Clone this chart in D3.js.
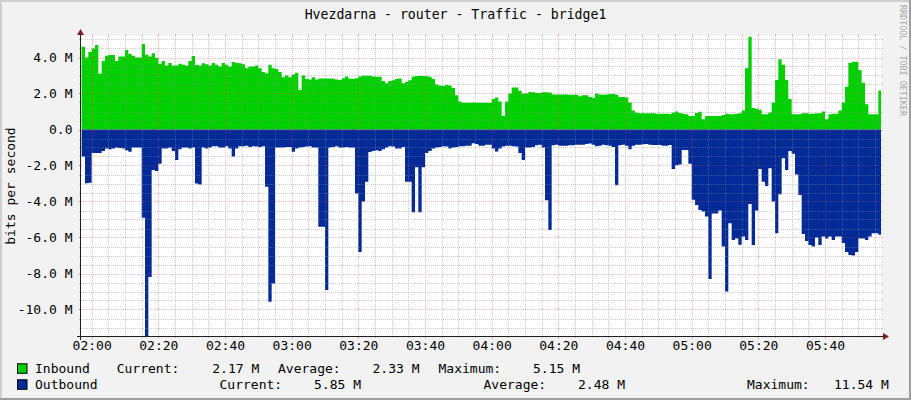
<!DOCTYPE html>
<html><head><meta charset="utf-8">
<script src="https://cdn.jsdelivr.net/npm/d3@7"></script>
<style>
html,body{margin:0;padding:0;background:#f2f2f2;}
svg{display:block;}
text{font-family:"DejaVu Sans Mono",monospace;fill:#000;}
</style></head><body>
<svg id="chart" width="911" height="400"></svg>
<script>
// ---------- data ----------
const title = "Hvezdarna - router - Traffic - bridge1";
const yAxisTitle = "bits per second";
const watermark = "RRDTOOL / TOBI OETIKER";
const firstSample = "01:57";   // one sample per minute
const stepMinutes = 1;

// Inbound, Mbit/s (one value per minute)
const inbound = [
 4.6,4.0,4.3,4.5,4.7,3.1,3.8,4.1,4.14,4.14,
 3.8,4.05,4.05,4.42,4.2,4.1,4.0,4.0,4.75,4.15,
 4.05,4.23,3.98,3.65,3.8,3.55,3.7,3.55,3.55,3.65,
 3.6,3.55,3.8,4.08,3.58,3.55,3.68,3.63,3.55,3.7,
 3.6,3.5,3.7,3.6,3.5,3.75,3.7,3.68,3.62,3.4,
 3.5,3.5,3.55,3.4,3.2,3.12,3.6,3.4,3.36,3.2,
 2.9,3.0,2.9,3.05,3.15,2.2,3.0,2.8,2.78,2.9,
 2.78,2.84,2.84,2.84,2.84,2.82,2.78,2.75,2.85,2.95,
 2.82,2.82,2.85,2.95,2.98,2.99,2.99,2.95,2.93,2.93,
 2.7,2.57,2.7,2.73,2.8,2.84,2.57,2.65,2.73,2.93,
 2.97,2.97,2.97,2.96,2.93,2.8,2.5,2.45,2.42,2.47,
 2.44,2.3,1.9,1.55,1.49,1.49,1.49,1.5,1.48,1.49,
 1.48,1.48,1.49,1.7,1.78,1.55,0.75,1.55,2.0,2.34,
 2.34,2.15,2.0,2.0,2.08,2.07,2.03,2.03,2.07,2.07,
 2.05,1.95,1.95,1.95,1.95,1.95,1.93,1.93,1.93,1.85,
 1.9,1.9,1.8,1.77,2.0,1.95,1.93,1.95,1.97,1.97,
 1.93,1.8,1.8,1.78,1.5,1.05,0.93,0.9,0.9,0.9,
 0.9,0.9,0.88,0.88,0.88,0.88,0.86,0.95,1.0,0.92,
 0.88,0.85,0.75,0.75,0.92,0.98,0.57,0.75,0.75,0.75,
 0.75,0.75,0.8,0.88,0.85,0.85,0.87,0.9,1.05,3.4,
 5.15,1.2,1.15,1.1,0.85,0.85,0.95,1.5,2.75,3.9,
 3.6,2.75,1.7,0.85,0.85,0.85,0.9,0.9,0.88,0.88,
 0.9,0.9,1.0,0.57,0.85,0.88,0.88,1.05,1.5,2.38,
 3.7,3.76,3.76,3.3,2.6,1.4,0.85,0.85,0.85,2.17
];

// Outbound, Mbit/s (drawn below zero)
const outbound = [
 1.5,2.98,2.96,1.3,1.3,1.3,1.2,1.05,1.1,1.05,
 1.0,1.03,1.05,1.15,1.24,1.0,1.0,1.0,4.9,11.54,
 8.2,2.25,2.3,1.9,1.05,1.05,1.0,1.2,1.7,1.1,
 1.0,1.0,1.05,1.0,3.0,3.05,1.0,1.05,1.0,0.93,
 0.93,1.0,1.0,0.93,1.05,1.5,1.05,0.93,0.93,0.9,
 0.97,0.93,0.95,0.97,0.93,3.18,9.57,8.55,1.0,1.0,
 1.0,0.97,0.97,1.24,1.05,1.0,0.97,0.95,0.93,1.0,
 1.0,5.4,5.4,8.92,1.0,0.97,0.93,1.0,1.0,0.97,
 1.0,1.0,3.55,6.8,4.0,2.9,1.25,1.2,1.15,1.2,
 1.1,1.0,0.93,0.95,1.05,1.05,0.97,2.9,2.9,4.6,
 2.1,4.6,2.1,1.3,1.2,1.05,1.0,0.97,0.93,0.95,
 1.05,1.0,0.97,0.93,0.93,0.9,0.9,0.77,0.8,0.9,
 0.9,0.85,0.85,1.05,1.22,1.05,0.95,0.9,0.9,0.93,
 0.95,1.3,1.7,1.0,1.0,0.97,0.88,0.85,1.0,3.93,
 5.59,0.88,0.85,0.9,0.9,0.9,0.88,0.87,0.85,0.85,
 0.85,0.8,0.78,0.85,0.93,0.9,0.85,0.87,0.9,0.97,
 3.1,0.88,0.85,0.9,1.1,0.9,0.85,0.85,0.82,0.8,
 0.85,0.86,0.86,0.86,0.9,0.9,0.86,2.2,1.98,1.95,
 1.14,1.14,1.9,3.9,4.2,4.47,4.56,4.84,8.3,4.66,
 4.66,4.5,6.5,9.0,5.21,6.14,6.05,6.4,5.95,6.14,
 4.14,6.42,4.5,2.2,2.9,3.14,2.15,4.0,5.77,3.6,
 1.6,2.25,1.2,1.35,2.5,3.64,5.8,6.2,6.42,6.5,
 6.0,6.42,5.95,6.05,5.95,6.14,5.95,5.95,6.3,6.8,
 6.97,7.0,6.8,6.05,6.05,6.14,5.95,5.77,5.77,5.85
];

const yTickValues = [-10, -8, -6, -4, -2, 0, 2, 4];
const yTickLabels = ["-10.0 M", "-8.0 M", "-6.0 M", "-4.0 M", "-2.0 M", "0.0", "2.0 M", "4.0 M"];
const xTickLabels = ["02:00","02:20","02:40","03:00","03:20","03:40","04:00","04:20","04:40","05:00","05:20","05:40"];

const legendNames = ["Inbound", "Outbound"];
const legendColors = ["#00CF00", "#002A97"];
const legendCurrent = ["2.17 M", "5.85 M"];
const legendAverage = ["2.33 M", "2.48 M"];
const legendMaximum = ["5.15 M", "11.54 M"];

// ---------- layout ----------
const W = 911, H = 400;
const L = 81, R = 881, T = 36, B = 336;
const svg = d3.select("#chart");

const parse = d3.timeParse("%H:%M");
const t0 = parse(firstSample);
const timeOf = i => new Date(t0.getTime() + i * stepMinutes * 60000);
const domStart = new Date(t0.getTime() - 12000);
const domEnd = new Date(domStart.getTime() + 240 * 60000);

const x = d3.scaleTime().domain([domStart, domEnd]).range([L, R]);
const y = d3.scaleLinear().domain([-11.5, 5.2]).range([336.5, 35.9]);

// background & frame
svg.append("rect").attr("width", W).attr("height", H).attr("fill", "#F2F2F2");
svg.append("rect").attr("x", 0).attr("y", 0).attr("width", W).attr("height", 2).attr("fill", "#CFCFCF");
svg.append("rect").attr("x", 0).attr("y", 0).attr("width", 2).attr("height", H).attr("fill", "#CFCFCF");
svg.append("rect").attr("x", 0).attr("y", H - 2).attr("width", W).attr("height", 2).attr("fill", "#9E9E9E");
svg.append("rect").attr("x", W - 2).attr("y", 0).attr("width", 2).attr("height", H).attr("fill", "#9E9E9E");

// canvas
svg.append("rect").attr("x", L).attr("y", T).attr("width", R - L).attr("height", B - T).attr("fill", "#FFFFFF");

svg.append("clipPath").attr("id", "plotclip").append("rect")
  .attr("x", L).attr("y", T).attr("width", R - L).attr("height", B - T + 1);

// areas
const inData = inbound.map((v, i) => ({ t: timeOf(i), v }));
inData.push({ t: timeOf(inbound.length), v: inbound[inbound.length - 1] });
const outData = outbound.map((v, i) => ({ t: timeOf(i), v: -v }));
outData.push({ t: timeOf(outbound.length), v: -outbound[outbound.length - 1] });

const area = d3.area().x(d => x(d.t)).y0(y(0)).y1(d => y(d.v)).curve(d3.curveStepAfter);
const g = svg.append("g").attr("clip-path", "url(#plotclip)");
g.append("path").datum(inData).attr("d", area).attr("fill", legendColors[0]);
g.append("path").datum(outData).attr("d", area).attr("fill", legendColors[1]);

// grid
const minorCol = "rgba(143,143,143,0.45)", majorCol = "rgba(222,80,80,0.38)";
const grid = svg.append("g").attr("shape-rendering", "crispEdges");
const minorTimes = d3.timeMinute.every(5).range(domStart, domEnd).filter(d => d.getMinutes() % 20 !== 0);
const majorTimes = d3.timeMinute.every(20).range(domStart, domEnd);
const minorVals = d3.range(-22, 11).map(k => k / 2).filter(v => v % 2 !== 0 && y(v) > T && y(v) < B);
const majorVals = yTickValues;

function vline(tt, col, tick) {
  const xx = Math.round(x(tt)) + 0.5;
  grid.append("line").attr("x1", xx).attr("x2", xx).attr("y1", T).attr("y2", B)
    .attr("stroke", col).attr("stroke-dasharray", "1,1");
  grid.append("line").attr("x1", xx).attr("x2", xx).attr("y1", B).attr("y2", B + tick).attr("stroke", col);
  grid.append("line").attr("x1", xx).attr("x2", xx).attr("y1", T - 2).attr("y2", T).attr("stroke", col);
}
function hline(v, col, tick) {
  const yy = Math.round(y(v)) + 0.5;
  grid.append("line").attr("x1", L).attr("x2", R).attr("y1", yy).attr("y2", yy)
    .attr("stroke", col).attr("stroke-dasharray", "1,1");
  grid.append("line").attr("x1", L - tick).attr("x2", L).attr("y1", yy).attr("y2", yy).attr("stroke", col);
  grid.append("line").attr("x1", R).attr("x2", R + 2).attr("y1", yy).attr("y2", yy).attr("stroke", col);
}
minorTimes.forEach(t => vline(t, minorCol, 2));
minorVals.forEach(v => hline(v, minorCol, 2));
majorTimes.forEach(t => vline(t, majorCol, 3));
majorVals.forEach(v => hline(v, majorCol, 3));

// axes lines
const axisCol = "#1F1F1F", arrowCol = "#801F1F";
svg.append("line").attr("x1", L - 4).attr("x2", R + 3).attr("y1", B + 0.5).attr("y2", B + 0.5)
  .attr("stroke", axisCol).attr("shape-rendering", "crispEdges");
svg.append("line").attr("x1", L - 0.5).attr("x2", L - 0.5).attr("y1", T - 2).attr("y2", B + 4)
  .attr("stroke", axisCol).attr("shape-rendering", "crispEdges");
svg.append("path").attr("d", `M${R + 2},${B - 3} L${R + 8},${B + 0.5} L${R + 2},${B + 4} Z`).attr("fill", arrowCol);
svg.append("path").attr("d", `M${L - 4},${T - 1} L${L - 0.5},${T - 7} L${L + 3},${T - 1} Z`).attr("fill", arrowCol);

// y tick labels via axis
const yAxis = d3.axisLeft(y).tickValues(yTickValues).tickSize(0).tickPadding(0)
  .tickFormat((d, i) => yTickLabels[i]);
const ya = svg.append("g").attr("transform", `translate(${L - 8.5},0)`).call(yAxis);
ya.select(".domain").remove();
ya.selectAll("text").attr("font-family", "DejaVu Sans Mono").attr("font-size", "13px").attr("fill", "#000");

// x tick labels via axis
const xTickTimes = xTickLabels.map(s => parse(s));
const xAxis = d3.axisBottom(x).tickValues(xTickTimes).tickSize(0).tickPadding(0)
  .tickFormat((d, i) => xTickLabels[i]);
const xa = svg.append("g").attr("transform", `translate(0,${B + 4})`).call(xAxis);
xa.select(".domain").remove();
xa.selectAll("text").attr("font-family", "DejaVu Sans Mono").attr("font-size", "13px").attr("fill", "#000").attr("dy", "0.8em");

// title
svg.append("text").attr("x", 455.5).attr("y", 19.3).attr("text-anchor", "middle")
  .attr("font-size", "13.2px").text(title);

// y axis title
svg.append("text").attr("transform", "translate(14.5,186) rotate(-90)").attr("text-anchor", "middle")
  .attr("font-size", "13px").text(yAxisTitle);

// watermark
svg.append("text").attr("transform", "translate(900,5) rotate(90)").attr("font-size", "8.4px")
  .attr("fill", "#A9A9A9").style("fill", "#A9A9A9").text(watermark);

// legend
const rows = [
  { base: 373.3, cols: [35, 116.7, 212.3, 278, 372.5, 438.5, 533] },
  { base: 389.3, cols: [35, 219.5, 314, 483.5, 578, 747, 834] }
];
rows.forEach((r, i) => {
  svg.append("rect").attr("x", 17.5).attr("y", r.base - 9.5).attr("width", 9.5).attr("height", 9.5)
    .attr("fill", legendColors[i]).attr("stroke", "#000").attr("stroke-width", 1);
  const parts = [legendNames[i], "Current:", legendCurrent[i], "Average:", legendAverage[i], "Maximum:", legendMaximum[i]];
  parts.forEach((p, k) => {
    svg.append("text").attr("x", r.cols[k]).attr("y", r.base).attr("font-size", "13px").text(p);
  });
});
</script>
</body></html>
